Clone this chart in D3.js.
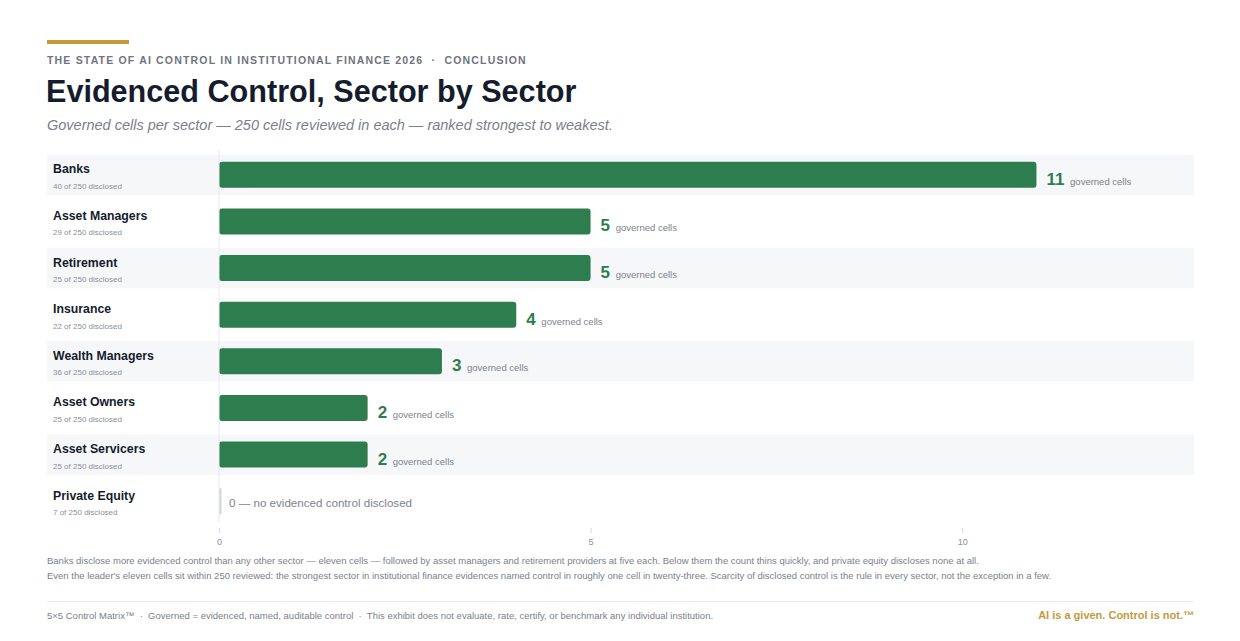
<!DOCTYPE html>
<html><head><meta charset="utf-8">
<script src="https://cdn.jsdelivr.net/npm/d3@7"></script>
<style>
html,body{margin:0;padding:0;background:#fff;}
svg{display:block;font-family:"Liberation Sans",Arial,sans-serif;}
</style></head>
<body><svg id="c" width="1240" height="641"></svg>
<script>
const sectors = ["Banks","Asset Managers","Retirement","Insurance","Wealth Managers","Asset Owners","Asset Servicers","Private Equity"];
const governed = [11,5,5,4,3,2,2,0];
const disclosed = [40,29,25,22,36,25,25,7];
const reviewed = 250;
const xTicks = [0,5,10];
const kicker = "THE STATE OF AI CONTROL IN INSTITUTIONAL FINANCE 2026  ·  CONCLUSION";
const title = "Evidenced Control, Sector by Sector";
const subtitle = "Governed cells per sector — 250 cells reviewed in each — ranked strongest to weakest.";
const notes = [
 "Banks disclose more evidenced control than any other sector — eleven cells — followed by asset managers and retirement providers at five each. Below them the count thins quickly, and private equity discloses none at all.",
 "Even the leader's eleven cells sit within 250 reviewed: the strongest sector in institutional finance evidences named control in roughly one cell in twenty-three. Scarcity of disclosed control is the rule in every sector, not the exception in a few."
];
const footLeft = "5×5 Control Matrix™  ·  Governed = evidenced, named, auditable control  ·  This exhibit does not evaluate, rate, certify, or benchmark any individual institution.";
const footRight = "AI is a given. Control is not.™";

const svg = d3.select("#c");
const green = "#2e7d4f", gold = "#c49a3c", ink = "#141c2e";

svg.append("rect").attr("x",47).attr("y",40).attr("width",82).attr("height",4).attr("fill",gold);
svg.append("text").attr("x",47).attr("y",64).text(kicker)
  .attr("font-size",10.5).attr("font-weight",700).attr("letter-spacing",1.18).attr("fill","#6f7480").attr("xml:space","preserve");
svg.append("text").attr("x",46).attr("y",102).text(title)
  .attr("font-size",30.6).attr("font-weight",700).attr("fill",ink);
svg.append("text").attr("x",47).attr("y",130).text(subtitle)
  .attr("font-size",14.5).attr("font-style","italic").attr("fill","#7a7f8a");

const left = 219, right = 1194, x0 = 47;
const x = d3.scaleLinear().domain([0, 13.12]).range([left, right]);
const y = d3.scaleBand().domain(sectors).range([151.5, 524.5]).paddingInner(0).paddingOuter(0);
const rows = sectors.map((s,i)=>({s, g:governed[i], d:disclosed[i], i}));

const g = svg.append("g");
g.selectAll("rect.band").data(rows.filter(r=>r.i%2===0)).join("rect")
  .attr("x",x0).attr("width",right-x0)
  .attr("y",r=>y(r.s)+3).attr("height",y.bandwidth()-6)
  .attr("fill","#f6f7f9");

const ax = svg.append("g").attr("transform",`translate(0,528)`)
  .call(d3.axisBottom(x).tickValues(xTicks).tickSize(5).tickPadding(6));
ax.select(".domain").remove();
ax.selectAll("line").attr("stroke","#d6d9de");
ax.selectAll("text").attr("font-size",9).attr("fill","#8a8f99").attr("font-family","Liberation Sans, Arial");
svg.append("line").attr("x1",left).attr("x2",left).attr("y1",150).attr("y2",522).attr("stroke","#e8eaee");

const bh = 26;
g.selectAll("rect.bar").data(rows.filter(r=>r.g>0)).join("rect")
  .attr("x",x(0)).attr("width",r=>x(r.g)-x(0))
  .attr("y",r=>y(r.s)+y.bandwidth()/2-bh/2).attr("height",bh)
  .attr("rx",3).attr("fill",green);
rows.filter(r=>r.g===0).forEach(r=>{
  g.append("rect").attr("x",x(0)).attr("width",2.5).attr("y",y(r.s)+y.bandwidth()/2-bh/2).attr("height",bh).attr("fill","#d3d6db");
  g.append("text").attr("x",x(0)+10).attr("y",y(r.s)+y.bandwidth()/2+5.5)
    .text("0 — no evidenced control disclosed").attr("font-size",11.6).attr("fill","#7d828c");
});
rows.filter(r=>r.g>0).forEach(r=>{
  const t = g.append("text").attr("x",x(r.g)+10).attr("y",y(r.s)+y.bandwidth()/2+10);
  t.append("tspan").text(r.g).attr("font-size",17).attr("font-weight",700).attr("fill",green);
  t.append("tspan").text(" governed cells").attr("font-size",9.5).attr("fill","#7d828c").attr("dx",3);
});
rows.forEach(r=>{
  const cy = y(r.s)+y.bandwidth()/2;
  g.append("text").attr("x",53).attr("y",cy-1.5).text(r.s).attr("font-size",12.3).attr("font-weight",700).attr("fill",ink);
  g.append("text").attr("x",53).attr("y",cy+14).text(`${r.d} of ${reviewed} disclosed`).attr("font-size",8).attr("fill","#8a8f99");
});

notes.forEach((n,i)=>{
  svg.append("text").attr("x",47).attr("y",563.5+i*15).text(n).attr("font-size",9.5).attr("fill","#7a7f8a");
});
svg.append("line").attr("x1",47).attr("x2",right).attr("y1",601.5).attr("y2",601.5).attr("stroke","#e6e8ec");
svg.append("text").attr("x",47).attr("y",618.5).text(footLeft).attr("font-size",9.5).attr("fill","#7a7f8a").attr("xml:space","preserve");
svg.append("text").attr("x",right).attr("y",618.5).attr("text-anchor","end").text(footRight).attr("font-size",11).attr("font-weight",700).attr("fill",gold);
</script></body></html>
